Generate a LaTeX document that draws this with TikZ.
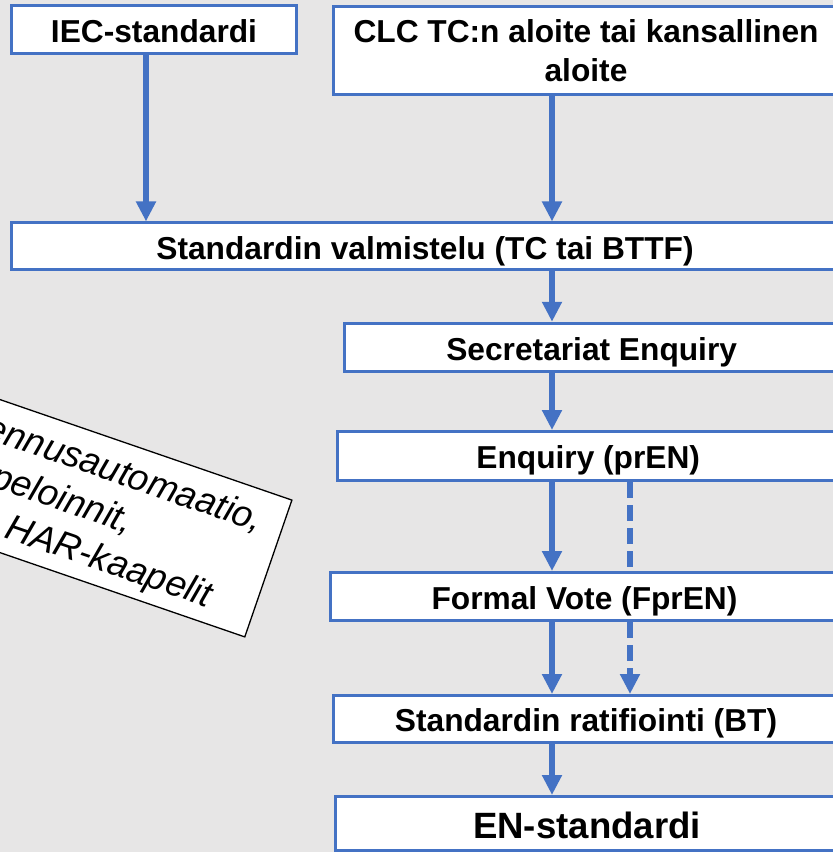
\documentclass[tikz,border=0pt]{standalone}
\usepackage{fontspec}
\setmainfont{Liberation Sans}
\usepackage{xcolor}
\usetikzlibrary{arrows.meta}
\definecolor{boxblue}{HTML}{4472C4}
\definecolor{slidegray}{HTML}{E7E6E6}

\begin{document}
\begin{tikzpicture}[x=1pt,y=1pt,yscale=-1,
    stagebox/.style={draw=boxblue, line width=3pt, fill=white, inner sep=0pt, align=center,
      text height=25.9pt, text depth=0pt, font=\bfseries\fontsize{31.7}{39}\selectfont},
    flow/.style={draw=boxblue, line width=6pt, -{Triangle[width=19pt,length=20pt]}},
    dashflow/.style={draw=boxblue, line width=6pt, dash pattern=on 16pt off 7pt},
    notetext/.style={font=\itshape\fontsize{36.6}{44}\selectfont, inner sep=0pt, rotate=-19}]
        %set diagram to the slide area
        \useasboundingbox (0,0) rectangle (833,852);
        \fill[slidegray] (0,0) rectangle (833,852);
        \clip (0,0) rectangle (833,852);

        %Axes of the connectors
        \coordinate (mainline) at (552,0);
        \coordinate (sideline) at (630,0);
        \coordinate (iecline) at (146,0);

        % Text Node
        \node[stagebox, minimum width=285pt, minimum height=48pt] (iec) at (154,29.5) {IEC-standardi};
        % Text Node
        \node[stagebox, text height={}, text depth={}, minimum width=505pt, minimum height=88pt] (clc) at (586,50.5) {CLC TC:n aloite tai kansallinen\\aloite};
        % Text Node
        \node[stagebox, minimum width=827pt, minimum height=46.7pt] (valm) at (425,246.3) {Standardin valmistelu (TC tai BTTF)};
        % Text Node
        \node[stagebox, minimum width=494.5pt, minimum height=48.3pt] (secr) at (591.7,347.4) {Secretariat Enquiry};
        % Text Node
        \node[stagebox, minimum width=501.5pt, minimum height=49pt] (enq) at (588.2,456) {Enquiry (prEN)};
        % Text Node
        \node[stagebox, minimum width=509pt, minimum height=48pt] (vote) at (584.5,596.5) {Formal Vote (FprEN)};
        % Text Node
        \node[stagebox, minimum width=506pt, minimum height=47pt] (ratif) at (586,719) {Standardin ratifiointi (BT)};
        % Text Node
        \node[stagebox, minimum width=503.5pt, minimum height=54pt, text height=30.2pt,
          font=\bfseries\fontsize{36.6}{44}\selectfont] (en) at (587,823.5) {EN-standardi};

        %Straight Lines
        \draw[flow] (iec.south -| iecline) -- (valm.north -| iecline);
        \draw[flow] (clc.south -| mainline) -- (valm.north -| mainline);
        \draw[flow] (valm.south -| mainline) -- (secr.north -| mainline);
        \draw[flow] (secr.south -| mainline) -- (enq.north -| mainline);
        \draw[flow] (enq.south -| mainline) -- (vote.north -| mainline);
        \draw[dashflow] (enq.south -| sideline) -- (vote.north -| sideline);
        \draw[flow] (vote.south -| mainline) -- (ratif.north -| mainline);
        \draw[dashflow, -{Triangle[width=19pt,length=20pt]}] (vote.south -| sideline) -- (ratif.north -| sideline);
        \draw[flow] (ratif.south -| mainline) -- (en.north -| mainline);

        %Shape: tilted note
        \begin{scope}[rotate=19]
        \draw[fill=white, line width=1.3pt] (-300,377.8) -- (438.8,377.8) -- (438.8,522.5) -- (-300,522.5) -- cycle;
        \node[notetext, anchor=base east] (noteA) at (418,419) {Rakennusautomaatio,};
        \node[notetext, anchor=base east] (noteB) at (295,463) {kaapeloinnit,};
        \node[notetext, anchor=base east] (noteC) at (394,507) {HAR-kaapelit};
        \end{scope}

\end{tikzpicture}
\end{document}
